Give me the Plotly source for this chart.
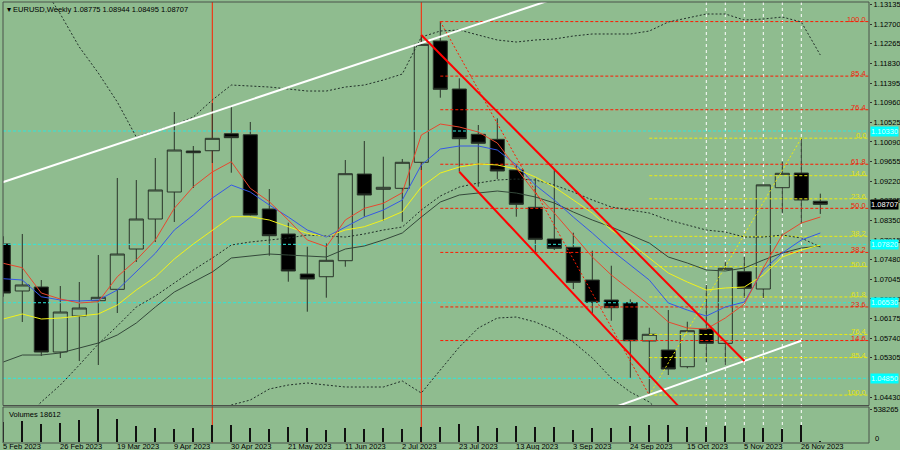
import pandas as pd
import plotly.graph_objects as go

# ---------------- data ----------------
weeks = ["2023-02-05", "2023-02-12", "2023-02-19", "2023-02-26", "2023-03-05", "2023-03-12",
         "2023-03-19", "2023-03-26", "2023-04-02", "2023-04-09", "2023-04-16", "2023-04-23",
         "2023-04-30", "2023-05-07", "2023-05-14", "2023-05-21", "2023-05-28", "2023-06-04",
         "2023-06-11", "2023-06-18", "2023-06-25", "2023-07-02", "2023-07-09", "2023-07-16",
         "2023-07-23", "2023-07-30", "2023-08-06", "2023-08-13", "2023-08-20", "2023-08-27",
         "2023-09-03", "2023-09-10", "2023-09-17", "2023-09-24", "2023-10-01", "2023-10-08",
         "2023-10-15", "2023-10-22", "2023-10-29", "2023-11-05", "2023-11-12", "2023-11-19",
         "2023-11-26", "2023-12-03"]

opens = [1.07830, 1.06787, 1.06875, 1.05435, 1.06233, 1.06572, 1.06824, 1.07717, 1.08382, 1.08980,
         1.09889, 1.09895, 1.10272, 1.10250, 1.08604, 1.08050, 1.07163, 1.07103, 1.07458, 1.09379,
         1.09040, 1.09062, 1.09639, 1.12326, 1.11263, 1.10259, 1.10148, 1.09468, 1.08641, 1.07939,
         1.07755, 1.07030, 1.06587, 1.06527, 1.05680, 1.05479, 1.05109, 1.05944, 1.05627, 1.07214,
         1.06831, 1.09076, 1.09401, 1.08775]
highs = [1.08000, 1.08050, 1.07030, 1.06897, 1.06986, 1.07584, 1.09291, 1.09246, 1.09734, 1.10753,
         1.10000, 1.10953, 1.10908, 1.10532, 1.09047, 1.08300, 1.07768, 1.07843, 1.09689, 1.10110,
         1.09763, 1.09712, 1.12459, 1.12757, 1.11500, 1.10465, 1.10613, 1.09579, 1.09284, 1.09468,
         1.08078, 1.07680, 1.07347, 1.06600, 1.05973, 1.06365, 1.06106, 1.06919, 1.07436, 1.07547,
         1.09140, 1.09652, 1.10173, 1.08944]
lows = [1.06660, 1.06100, 1.05346, 1.05302, 1.05235, 1.05147, 1.06299, 1.07429, 1.07872, 1.08316,
        1.09069, 1.09623, 1.09408, 1.08460, 1.07569, 1.06993, 1.06328, 1.06638, 1.07325, 1.08433,
        1.08344, 1.08322, 1.09468, 1.11070, 1.09430, 1.09098, 1.09268, 1.08433, 1.07622, 1.07695,
        1.06831, 1.06277, 1.06128, 1.04852, 1.04480, 1.04925, 1.05074, 1.05206, 1.05147, 1.06625,
        1.06625, 1.08508, 1.08287, 1.08495]
closes = [1.06742, 1.06920, 1.05435, 1.06321, 1.06410, 1.06647, 1.07606, 1.08382, 1.09025, 1.09911,
          1.09851, 1.10170, 1.10184, 1.08471, 1.08012, 1.07230, 1.07052, 1.07467, 1.09386, 1.08914,
          1.09085, 1.09639, 1.12253, 1.11256, 1.10161, 1.10060, 1.09446, 1.08708, 1.07932, 1.07733,
          1.06979, 1.06536, 1.06416, 1.05685, 1.05827, 1.05058, 1.05907, 1.05627, 1.07290, 1.06846,
          1.09139, 1.09395, 1.08803, 1.08707]
volumes = [331000, 343000, 298000, 315000, 359000, 538265, 375000, 261000, 228000, 217000,
           228000, 277000, 282000, 228000, 212000, 250000, 228000, 201000, 228000, 217000,
           228000, 212000, 250000, 240000, 294000, 261000, 233000, 261000, 240000, 240000,
           196000, 228000, 228000, 261000, 277000, 272000, 250000, 240000, 256000, 223000,
           228000, 207000, 272000, 18612]

ma_red = [1.07400, 1.07303, 1.06742, 1.06609, 1.06521, 1.06549, 1.07103, 1.07473, 1.07917, 1.08619,
          1.09098, 1.09424, 1.09652, 1.09062, 1.08765, 1.08360, 1.07917, 1.07768, 1.08360, 1.08619,
          1.08730, 1.08965, 1.10243, 1.10487, 1.10421, 1.10310, 1.10066, 1.09512, 1.08958, 1.08515,
          1.08027, 1.07540, 1.07141, 1.06809, 1.06476, 1.06100, 1.05967, 1.05944, 1.06188, 1.06498,
          1.07296, 1.08027, 1.08293, 1.08426]
ma_blue = [1.07059, 1.07030, 1.06660, 1.06587, 1.06565, 1.06587, 1.06809, 1.07214, 1.07622, 1.08138,
           1.08471, 1.08847, 1.09135, 1.08980, 1.08692, 1.08426, 1.08138, 1.07983, 1.08205, 1.08426,
           1.08581, 1.08803, 1.09579, 1.09933, 1.10000, 1.10000, 1.09911, 1.09579, 1.09135, 1.08803,
           1.08426, 1.08072, 1.07695, 1.07363, 1.07030, 1.06521, 1.06365, 1.06232, 1.06432, 1.06543,
           1.07252, 1.07629, 1.07917, 1.08072]
ma_yellow = [1.06166, 1.06277, 1.06166, 1.06188, 1.06232, 1.06277, 1.06476, 1.06809, 1.07097, 1.07496,
             1.07828, 1.08138, 1.08433, 1.08433, 1.08360, 1.08211, 1.08065, 1.07990, 1.08138, 1.08211,
             1.08360, 1.08544, 1.09091, 1.09401, 1.09534, 1.09601, 1.09579, 1.09490, 1.09313, 1.09091,
             1.08803, 1.08515, 1.08138, 1.07850, 1.07518, 1.07185, 1.06986, 1.06809, 1.06853, 1.06875,
             1.07141, 1.07540, 1.07695, 1.07806]
ma_dark = [1.05213, 1.05368, 1.05368, 1.05413, 1.05523, 1.05634, 1.05811, 1.06077, 1.06432, 1.06764,
           1.06986, 1.07208, 1.07518, 1.07562, 1.07606, 1.07584, 1.07562, 1.07540, 1.07717, 1.07784,
           1.07917, 1.08072, 1.08426, 1.08759, 1.08914, 1.08958, 1.09002, 1.08958, 1.08870, 1.08737,
           1.08537, 1.08360, 1.08205, 1.08027, 1.07850, 1.07540, 1.07407, 1.07252, 1.07230, 1.07296,
           1.07473, 1.07629, 1.07739, 1.07784]
bb_upper = [1.15008, 1.14299, 1.13590, 1.12925, 1.12194, 1.11617, 1.10975, 1.10199, 1.10332, 1.10465,
            1.10642, 1.11019, 1.11351, 1.11329, 1.11307, 1.11263, 1.11218, 1.11218, 1.11307, 1.11351,
            1.11462, 1.11595, 1.12415, 1.12548, 1.12570, 1.12459, 1.12349, 1.12304, 1.12349, 1.12371,
            1.12437, 1.12482, 1.12482, 1.12482, 1.12548, 1.12748, 1.12836, 1.12925, 1.12925, 1.12792,
            1.12814, 1.12858, 1.12748, 1.12016]
bb_middle = [1.03595, 1.03928, 1.04327, 1.04703, 1.05147, 1.05612, 1.06011, 1.06432, 1.06676, 1.06964,
             1.07252, 1.07518, 1.07806, 1.07872, 1.07917, 1.07961, 1.08027, 1.08005, 1.07983, 1.08050,
             1.08138, 1.08205, 1.08581, 1.08892, 1.09091, 1.09180, 1.09246, 1.09268, 1.09246, 1.09135,
             1.08980, 1.08803, 1.08648, 1.08581, 1.08515, 1.08360, 1.08249, 1.08138, 1.08094, 1.07983,
             1.07983, 1.08027, 1.07961, 1.07762]
bb_lower = [0.92183, 0.93557, 0.95064, 0.96482, 0.98100, 0.99607, 1.01047, 1.02665, 1.03019, 1.03462,
            1.03861, 1.04016, 1.04260, 1.04371, 1.04615, 1.04703, 1.04748, 1.04703, 1.04659, 1.04659,
            1.04659, 1.04792, 1.04526, 1.05036, 1.05546, 1.05967, 1.06188, 1.06210, 1.06100, 1.05922,
            1.05656, 1.05302, 1.04859, 1.04548, 1.04327, 1.03928, 1.03662, 1.03352, 1.03263, 1.03174,
            1.03152, 1.03197, 1.03174, 1.03507]

# trend lines (anchor dates and prices)
white_upper_dates = ["2023-01-29", "2023-09-17"]
white_upper_prices = [1.09062, 1.13684]
white_lower_dates = ["2023-09-17", "2023-11-26"]
white_lower_prices = [1.04187, 1.05685]
channel_upper_dates = ["2023-07-09", "2023-11-05"]
channel_upper_prices = [1.12459, 1.05235]
channel_lower_dates = ["2023-07-23", "2023-10-15"]
channel_lower_prices = [1.09430, 1.04023]

# Fibonacci retracements
fib_ratios = [0.0, 14.6, 23.6, 38.2, 50.0, 61.8, 76.4, 85.4, 100.0]
fib_labels = ["0.0", "14.6", "23.6", "38.2", "50.0", "61.8", "76.4", "85.4", "100.0"]
red_fib_dates = ["2023-07-16", "2023-10-01"]
red_fib_prices = [1.12757, 1.04480]
yellow_fib_dates = ["2023-10-01", "2023-11-26"]
yellow_fib_prices = [1.04480, 1.10173]

# support / resistance levels
cyan_levels = [1.10332, 1.07821, 1.06527, 1.04852]
cyan_texts = ["1.10330", "1.07820", "1.06530", "1.04850"]

red_vlines = ["2023-04-23", "2023-07-09"]
white_vlines = ["2023-10-22", "2023-10-29", "2023-11-05", "2023-11-12", "2023-11-19", "2023-11-26"]

# (the 1.04870 scale label sits completely under the cyan price box in the terminal)
price_ticks = [1.13135, 1.12700, 1.12265, 1.11830, 1.11395, 1.10960, 1.10525, 1.10090, 1.09655,
               1.09220, 1.08785, 1.08350, 1.07915, 1.07480, 1.07045, 1.06610, 1.06175, 1.05740,
               1.05305, 1.04430]
price_tick_text = ["1.13135", "1.12700", "1.12265", "1.11830", "1.11395", "1.10960", "1.10525",
                   "1.10090", "1.09655", "1.09220", "1.08785", "1.08350", "1.07915", "1.07480",
                   "1.07045", "1.06610", "1.06175", "1.05740", "1.05305", "1.04430"]
date_ticks = ["2023-02-05", "2023-02-26", "2023-03-19", "2023-04-09", "2023-04-30", "2023-05-21",
              "2023-06-11", "2023-07-02", "2023-07-23", "2023-08-13", "2023-09-03", "2023-09-24",
              "2023-10-15", "2023-11-05", "2023-11-26"]
date_tick_text = ["5 Feb 2023", "26 Feb 2023", "19 Mar 2023", "9 Apr 2023", "30 Apr 2023",
                  "21 May 2023", "11 Jun 2023", "2 Jul 2023", "23 Jul 2023", "13 Aug 2023",
                  "3 Sep 2023", "24 Sep 2023", "15 Oct 2023", "5 Nov 2023", "26 Nov 2023"]

title_text = "▾ EURUSD,Weekly 1.08775 1.08944 1.08495 1.08707"
volume_title = "Volumes 18612"
last_price = 1.08707
volume_max = 538265

# ---------------- styling / layout helpers ----------------
BG = "#8fbc8f"
FONT = "Liberation Sans"
FS = 7.5
RED = "#ff1a00"
YEL = "#ecec10"
CYAN = "#2fe6dc"
DARK = "#2a342a"

t0 = pd.Timestamp(weeks[0])
px_day = 19.0 / 7.0
xmin = t0 - pd.Timedelta(days=0.3 / px_day)
xmax = t0 + pd.Timedelta(days=(869 - 3.3) / px_day)

y_top, y_bot = 1.13191, 1.04249
main_dom = [0.085, 1.0]
vol_dom = [0.0, 0.0816]
v_per_px = volume_max / 33.0
vol_range = [-1 * v_per_px, volume_max + 2 * v_per_px]

fig = go.Figure()


def lines_trace(segments, color, width=1, dash=None, yaxis="y"):
    xs, ys = [], []
    for (xa, xb), (ya, yb) in segments:
        xs += [xa, xb, None]
        ys += [ya, yb, None]
    return go.Scatter(x=xs, y=ys, mode="lines", yaxis=yaxis,
                      line=dict(color=color, width=width, dash=dash),
                      hoverinfo="skip", showlegend=False)


# cyan levels across the whole chart
fig.add_trace(lines_trace([((xmin, xmax), (p, p)) for p in cyan_levels], CYAN, 1, "3px,2px"))

# red fibo levels (from the July high to the right edge)
r_hi, r_lo = red_fib_prices
red_lvls = [r_lo + r / 100.0 * (r_hi - r_lo) for r in fib_ratios[1:]]
fig.add_trace(lines_trace([((red_fib_dates[0], xmax), (p, p)) for p in red_lvls], RED, 1, "3px,2px"))
fig.add_trace(lines_trace([(tuple(red_fib_dates), tuple(red_fib_prices))], RED, 1, "2px,2px"))

# yellow fibo levels (from the October low to the right edge)
y_lo, y_hi = yellow_fib_prices
yel_lvls = [y_hi - r / 100.0 * (y_hi - y_lo) for r in fib_ratios]
fig.add_trace(lines_trace([((yellow_fib_dates[0], xmax), (p, p)) for p in yel_lvls], YEL, 1, "3px,2px"))
fig.add_trace(lines_trace([(tuple(yellow_fib_dates), tuple(yellow_fib_prices))], YEL, 1, "2px,2px"))

# Bollinger style bands (dotted) and moving averages
for series in (bb_upper, bb_middle, bb_lower):
    fig.add_trace(go.Scatter(x=weeks, y=series, mode="lines", hoverinfo="skip", showlegend=False,
                             line=dict(color="#22302a", width=1, dash="2px,2px")))
fig.add_trace(go.Scatter(x=weeks, y=ma_dark, mode="lines", hoverinfo="skip", showlegend=False,
                         line=dict(color="#34483a", width=1)))
fig.add_trace(go.Scatter(x=weeks, y=ma_yellow, mode="lines", hoverinfo="skip", showlegend=False,
                         line=dict(color="#f2f21a", width=1)))
fig.add_trace(go.Scatter(x=weeks, y=ma_blue, mode="lines", hoverinfo="skip", showlegend=False,
                         line=dict(color="#3658e6", width=1)))
fig.add_trace(go.Scatter(x=weeks, y=ma_red, mode="lines", hoverinfo="skip", showlegend=False,
                         line=dict(color="#e8472e", width=1)))

# trend lines
fig.add_trace(lines_trace([(tuple(white_upper_dates), tuple(white_upper_prices)),
                           (tuple(white_lower_dates), tuple(white_lower_prices))], "#ffffff", 2))
fig.add_trace(lines_trace([(tuple(channel_upper_dates), tuple(channel_upper_prices)),
                           (tuple(channel_lower_dates), tuple(channel_lower_prices))], "#ff0000", 2))

# candles (foreground)
fig.add_trace(go.Candlestick(
    x=weeks, open=opens, high=highs, low=lows, close=closes,
    increasing=dict(fillcolor=BG, line=dict(color=DARK, width=1)),
    decreasing=dict(fillcolor="#000000", line=dict(color=DARK, width=1)),
    whiskerwidth=0, hoverinfo="skip", showlegend=False))

# volumes
fig.add_trace(go.Bar(x=weeks, y=volumes, yaxis="y2", width=0.75 * 86400000,
                     marker=dict(color="#111111", line=dict(width=0)),
                     hoverinfo="skip", showlegend=False))

# vertical lines (both panes)
shapes = []
for d in red_vlines:
    shapes.append(dict(type="line", xref="x", yref="paper", x0=d, x1=d, y0=0, y1=1,
                       line=dict(color="#ff2000", width=1), layer="below"))
for d in white_vlines:
    shapes.append(dict(type="line", xref="x", yref="paper", x0=d, x1=d, y0=0, y1=1,
                       line=dict(color="#ffffff", width=1, dash="3px,3px"), layer="below"))
# pane borders
shapes.append(dict(type="rect", xref="paper", yref="paper", x0=0, x1=1, y0=main_dom[0], y1=1,
                   line=dict(color="#4a524a", width=1), layer="above"))
shapes.append(dict(type="rect", xref="paper", yref="paper", x0=0, x1=1, y0=0, y1=vol_dom[1],
                   line=dict(color="#4a524a", width=1), layer="above"))

ann = []
ann.append(dict(text=title_text, xref="paper", yref="paper", x=0, y=1, xanchor="left",
                yanchor="top", xshift=2, yshift=-1, showarrow=False,
                font=dict(family=FONT, size=FS, color="#000000")))
ann.append(dict(text=volume_title, xref="paper", yref="paper", x=0, y=vol_dom[1], xanchor="left",
                yanchor="top", xshift=4, yshift=-1, showarrow=False,
                font=dict(family=FONT, size=FS, color="#000000")))
for r, lab in zip(fib_ratios[1:], fib_labels[1:]):
    p = r_lo + r / 100.0 * (r_hi - r_lo)
    ann.append(dict(text=lab, xref="paper", yref="y", x=1, y=p, xanchor="right", yanchor="bottom",
                    xshift=-2, yshift=-3, showarrow=False, borderpad=0,
                    font=dict(family=FONT, size=FS, color="#f01e0a")))
for r, lab in zip(fib_ratios, fib_labels):
    p = y_hi - r / 100.0 * (y_hi - y_lo)
    ann.append(dict(text=lab, xref="paper", yref="y", x=1, y=p, xanchor="right", yanchor="bottom",
                    xshift=-2, yshift=-3, showarrow=False, borderpad=0,
                    font=dict(family=FONT, size=FS, color="#e4e410")))
for p, t in zip(cyan_levels, cyan_texts):
    ann.append(dict(text=t, xref="paper", yref="y", x=1, y=p, xanchor="left", yanchor="middle",
                    xshift=1, showarrow=False, bgcolor="#00ffff", borderpad=0,
                    font=dict(family=FONT, size=FS, color="#d8ffff")))
ann.append(dict(text=f"{last_price:.5f}", xref="paper", yref="y", x=1, y=last_price, xanchor="left",
                yanchor="middle", xshift=1, showarrow=False, bgcolor="#000000", borderpad=0,
                font=dict(family=FONT, size=FS, color="#ffffff")))
ann.append(dict(text="0", xref="paper", yref="y2", x=1, y=0, xanchor="left", yanchor="middle",
                xshift=4, yshift=4, showarrow=False,
                font=dict(family=FONT, size=FS, color="#000000")))
# time-scale labels, left-aligned at their bar like the terminal draws them
for d, t in zip(date_ticks, date_tick_text):
    ann.append(dict(text=t, xref="x", yref="paper", x=d, y=0, xanchor="left", yanchor="top",
                    xshift=-1, yshift=2, showarrow=False, borderpad=0,
                    font=dict(family=FONT, size=FS, color="#000000")))

tickfont = dict(family=FONT, size=FS, color="#000000")
fig.update_layout(
    template="none",
    width=900, height=450,
    margin=dict(l=3, r=31, t=2, b=7, autoexpand=False),
    paper_bgcolor=BG, plot_bgcolor=BG,
    showlegend=False, boxgap=0.26, boxgroupgap=0, bargap=0,
    shapes=shapes, annotations=ann,
    xaxis=dict(type="date", range=[xmin, xmax], anchor="y2", showgrid=False, zeroline=False,
               showline=False, showticklabels=False, automargin=False, ticks="",
               rangeslider=dict(visible=False), fixedrange=True),
    yaxis=dict(domain=main_dom, range=[y_bot, y_top], side="right", showgrid=False, automargin=False,
               zeroline=False, showline=False, tickvals=price_ticks, ticktext=price_tick_text,
               ticks="outside", ticklen=2, tickcolor="#333333", tickfont=tickfont,
               ticklabelstandoff=0, fixedrange=True),
    yaxis2=dict(domain=vol_dom, range=vol_range, side="right", showgrid=False, zeroline=False,
                showline=False, tickvals=[volume_max], ticktext=[str(volume_max)], automargin=False,
                ticks="outside", ticklen=2, tickcolor="#333333", tickfont=tickfont,
                ticklabelstandoff=0, fixedrange=True),
)

fig.write_html("out.html", config={"displayModeBar": False, "staticPlot": True},
               post_script="document.body.style.margin='0';document.body.style.overflow='hidden';")
